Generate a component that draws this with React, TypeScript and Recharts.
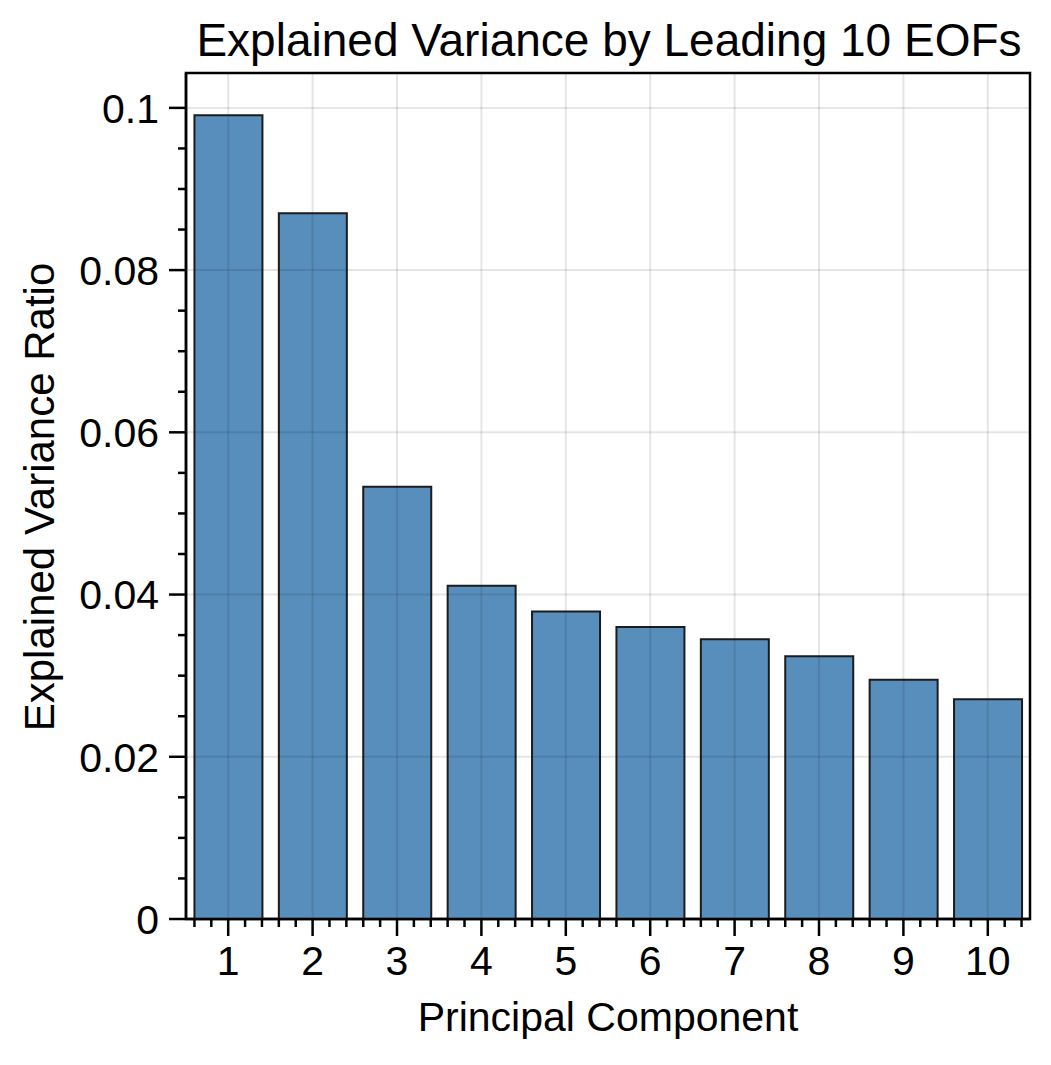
import React from "react";
import {
  Bar,
  BarChart,
  ReferenceArea,
  ReferenceLine,
  XAxis,
  YAxis,
} from "recharts";

const components = [1, 2, 3, 4, 5, 6, 7, 8, 9, 10];
const varianceRatio = [
  0.0991, 0.087, 0.0533, 0.0411, 0.0379, 0.036, 0.0345, 0.0324, 0.0295, 0.0271,
];
const yMajorTicks = [0, 0.02, 0.04, 0.06, 0.08, 0.1];
const yMax = 0.1043;

const data = components.map((pc, i) => ({ pc, value: varianceRatio[i] }));

// minor ticks every 0.2 on x and every 0.005 on y
const xTicks = Array.from({ length: 50 }, (_, k) => (k + 3) / 5);
const yTicks = Array.from({ length: 21 }, (_, k) => k / 200);

const FONT = '"Liberation Sans", Arial, Helvetica, sans-serif';
const FS = 41;

const isMajorX = (v: number) => Math.abs(v - Math.round(v)) < 1e-6;
const isMajorY = (v: number) =>
  yMajorTicks.some((t) => Math.abs(t - v) < 1e-6);

function XTick({ x, y, payload }: any) {
  const v = payload.value as number;
  const major = isMajorX(v);
  return (
    <g>
      <line x1={x} x2={x} y1={y} y2={y + (major ? 17 : 8)} stroke="#000" strokeWidth={2.5} />
      {major && (
        <text x={x} y={y + 56} textAnchor="middle" fontFamily={FONT} fontSize={FS} fill="#000">
          {Math.round(v)}
        </text>
      )}
    </g>
  );
}

function YTick({ x, y, payload }: any) {
  const v = payload.value as number;
  const major = isMajorY(v);
  return (
    <g>
      <line x1={x - (major ? 17 : 8)} x2={x} y1={y} y2={y} stroke="#000" strokeWidth={2.5} />
      {major && (
        <text x={x - 27} y={y} dy="0.36em" textAnchor="end" fontFamily={FONT} fontSize={FS} fill="#000">
          {String(+v.toFixed(3))}
        </text>
      )}
    </g>
  );
}

export default function App() {
  return (
    <div style={{ position: "absolute", left: 0, top: 0, width: 1051, height: 1065, background: "#fff" }}>
      <BarChart
        width={1051}
        height={1065}
        data={data}
        margin={{ top: 73, right: 21, left: 0, bottom: 0 }}
      >
        <XAxis
          xAxisId="num"
          dataKey="pc"
          type="number"
          domain={[0.5, 10.5]}
          ticks={xTicks}
          interval={0}
          allowDataOverflow
          height={146}
          tickLine={false}
          tickSize={0}
          tickMargin={0}
          tick={<XTick />}
          axisLine={{ stroke: "#000", strokeWidth: 2.5 }}
        />
        <XAxis xAxisId="cat" dataKey="pc" type="category" hide height={0} padding={{ left: 0, right: 0 }} />
        <YAxis
          type="number"
          domain={[0, yMax]}
          ticks={yTicks}
          interval={0}
          allowDataOverflow
          width={186}
          tickLine={false}
          tickSize={0}
          tickMargin={0}
          tick={<YTick />}
          axisLine={{ stroke: "#000", strokeWidth: 2.5 }}
        />
        <Bar
          xAxisId="cat"
          dataKey="value"
          fill="#4682b4"
          fillOpacity={0.9}
          stroke="#1c1c1c"
          strokeWidth={2}
          isAnimationActive={false}
        />
        {components.map((c) => (
          <ReferenceLine key={`gx${c}`} xAxisId="num" x={c} stroke="#000" strokeOpacity={0.1} strokeWidth={2} />
        ))}
        {yMajorTicks.slice(1).map((t) => (
          <ReferenceLine key={`gy${t}`} xAxisId="num" y={t} stroke="#000" strokeOpacity={0.1} strokeWidth={2} />
        ))}
        <ReferenceArea
          xAxisId="num"
          x1={0.5}
          x2={10.5}
          y1={0}
          y2={yMax}
          fill="none"
          fillOpacity={0}
          stroke="#000"
          strokeOpacity={1}
          strokeWidth={2.5}
        />
      </BarChart>
      <svg
        width={1051}
        height={1065}
        style={{ position: "absolute", left: 0, top: 0, pointerEvents: "none" }}
      >
        <text x={609} y={56} textAnchor="middle" fontFamily={FONT} fontSize={46} fill="#000">
          Explained Variance by Leading 10 EOFs
        </text>
        <text x={608} y={1031} textAnchor="middle" fontFamily={FONT} fontSize={41} fill="#000">
          Principal Component
        </text>
        <text
          x={54}
          y={497}
          transform="rotate(-90 54 497)"
          textAnchor="middle"
          fontFamily={FONT}
          fontSize={42}
          fill="#000"
        >
          Explained Variance Ratio
        </text>
      </svg>
    </div>
  );
}
